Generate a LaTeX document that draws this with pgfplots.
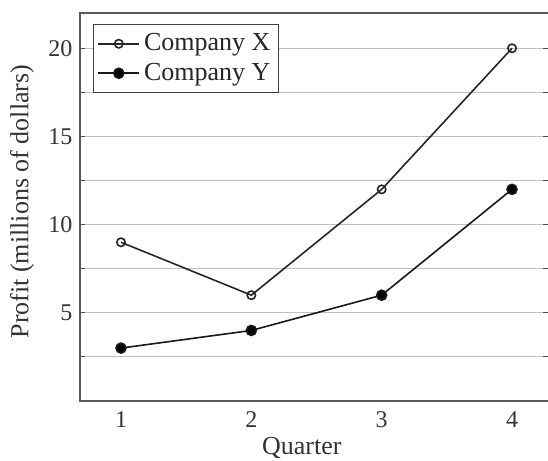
\documentclass[border=0pt,11pt]{standalone}
\usepackage{fontspec}
\setmainfont{Liberation Serif}
\usepackage{pgfplots}
\pgfplotsset{compat=1.18}
\begin{document}
\begin{tikzpicture}
\begin{axis}[
  scale only axis,
  width=234pt, height=194pt,
  xmin=0.6854, xmax=4.276,
  ymin=0, ymax=22,
  xtick={1,2,3,4},
  ytick={5,10,15,20},
  minor ytick={2.5,7.5,12.5,17.5},
  ymajorgrids, yminorgrids,
  grid style={gray!50, line width=0.5pt},
  minor grid style={gray!50, line width=0.5pt},
  axis line style={draw=none},
  x tick style={draw=none},
  y tick style={draw=black!70, line width=0.5pt},
  tick align=inside,
  major tick length=2.5pt, minor tick length=2.5pt,
  /pgf/number format/assume math mode=true,
  tick label style={font=\fontsize{12}{14}\selectfont, text=black!80},
  xticklabel style={yshift=-1.5pt},
  xlabel={Quarter},
  ylabel={Profit (millions of dollars)},
  every axis x label/.style={at={(rel axis cs:0.474,0)}, yshift=-23.5pt, anchor=center, font=\fontsize{13}{15}\selectfont, text=black!80},
  every axis y label/.style={at={(rel axis cs:0,0.514)}, xshift=-29pt, rotate=90, anchor=center, font=\fontsize{13}{15}\selectfont, text=black!80},
  clip=false,
  legend style={at={(rel axis cs:0,1)}, anchor=north west, xshift=6.5pt, yshift=-5.5pt,
    draw=black!75, fill=white, font=\fontsize{13}{15}\selectfont, text=black!85,
    inner xsep=2pt, inner ysep=2.5pt, row sep=0.5pt, line width=0.5pt},
  legend cell align=left,
  legend image code/.code={
    \draw[#1] (0cm,0cm) -- (0.72cm,0cm);
    \draw[#1, mark repeat=2, mark phase=2] plot coordinates {(0cm,0cm) (0.36cm,0cm) (0.72cm,0cm)};
  },
]
\coordinate (sw) at (rel axis cs:0,0);
\coordinate (ne) at (rel axis cs:1,1);
\draw[black!65, line width=0.6pt] (rel axis cs:1,1) -- (rel axis cs:0,1) -- (rel axis cs:0,0) -- (rel axis cs:1,0);
\addplot[black!85, line width=0.8pt, mark=o, mark size=2.1pt, mark options={fill=white, line width=0.8pt}]
  coordinates {(1,9) (2,6) (3,12) (4,20)};
\addlegendentry{Company X}
\addplot[black!90, line width=0.8pt, mark=*, mark size=2.5pt, mark options={fill=black}]
  coordinates {(1,3) (2,4) (3,6) (4,12)};
\addlegendentry{Company Y}
\end{axis}
\pgfresetboundingbox
\path[use as bounding box] ([xshift=-40pt,yshift=-30pt]sw) rectangle ([yshift=6.5pt]ne);
\end{tikzpicture}
\end{document}
